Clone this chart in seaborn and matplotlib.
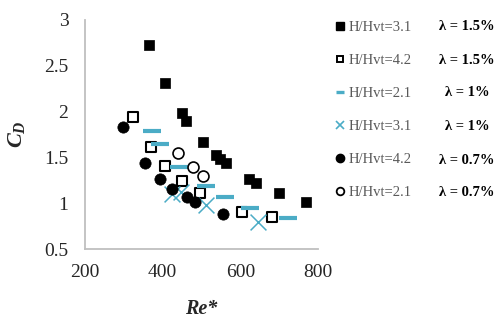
import matplotlib
matplotlib.use("Agg")
import matplotlib.pyplot as plt
import seaborn as sns
import pandas as pd
from matplotlib.ticker import FuncFormatter
from matplotlib.lines import Line2D

# ---- data ----
sq31_x = [365, 405, 449, 459, 503, 537, 548, 562, 622, 640, 700, 768]
sq31_y = [2.73, 2.31, 1.98, 1.90, 1.67, 1.53, 1.48, 1.44, 1.26, 1.22, 1.11, 1.01]
osq42_x = [323, 369, 405, 449, 497, 605, 682]
osq42_y = [1.94, 1.61, 1.41, 1.24, 1.11, 0.90, 0.85]
dash21_x = [373, 394, 442, 511, 560, 625, 723]
dash21_y = [1.79, 1.65, 1.40, 1.19, 1.065, 0.95, 0.84]
x31_x = [425, 448, 511, 646]
x31_y = [1.10, 1.12, 0.98, 0.79]
dot42_x = [299, 355, 394, 423, 462, 483, 556]
dot42_y = [1.835, 1.44, 1.26, 1.16, 1.065, 1.01, 0.88]
oc21_x = [440, 477, 505]
oc21_y = [1.55, 1.39, 1.30]

legend_labels = ["H/Hvt=3.1", "H/Hvt=4.2", "H/Hvt=2.1", "H/Hvt=3.1", "H/Hvt=4.2", "H/Hvt=2.1"]
lambda_labels = ["λ = 1.5%", "λ = 1.5%", "λ = 1%", "λ = 1%", "λ = 0.7%", "λ = 0.7%"]
x_ticks = [200, 400, 600, 800]
y_ticks = [0.5, 1, 1.5, 2, 2.5, 3]

sns.set_style("white")
plt.rcParams["font.family"] = ["Liberation Serif", "DejaVu Serif"]
plt.rcParams["mathtext.fontset"] = "custom"
plt.rcParams["mathtext.it"] = "Liberation Serif:italic:bold"
plt.rcParams["mathtext.rm"] = "Liberation Serif:bold"
plt.rcParams["mathtext.bf"] = "Liberation Serif:bold"

CYAN = "#4BACC6"
fig = plt.figure(figsize=(4.96, 3.21), dpi=100)
ax = fig.add_axes([85 / 496, 1 - 249 / 321, (318 - 85) / 496, (249 - 20) / 321])

series = [
    (sq31_x, sq31_y, dict(marker="s", s=52, color="black", edgecolor="black", linewidth=0.5)),
    (osq42_x, osq42_y, dict(marker="s", s=48, color="white", edgecolor="black", linewidth=1.5)),
    (dash21_x, dash21_y, dict(marker="_", s=180, color=CYAN, linewidth=3.0)),
    (x31_x, x31_y, dict(marker="x", s=130, color=CYAN, linewidth=1.1)),
    (dot42_x, dot42_y, dict(marker="o", s=66, color="black", edgecolor="black", linewidth=0.5)),
    (oc21_x, oc21_y, dict(marker="o", s=62, color="white", edgecolor="black", linewidth=1.2)),
]
for xs, ys, kw in series:
    df = pd.DataFrame({"x": xs, "y": ys})
    sns.scatterplot(data=df, x="x", y="y", ax=ax, legend=False, **kw)

ax.set_xlim(200, 800)
ax.set_ylim(0.5, 3)
ax.set_xticks(x_ticks)
ax.set_yticks(y_ticks)
fmt = FuncFormatter(lambda v, p: f"{v:g}")
ax.xaxis.set_major_formatter(fmt)
ax.yaxis.set_major_formatter(fmt)
ax.tick_params(axis="both", length=0, labelsize=14, labelcolor="#262626")
ax.tick_params(axis="x", pad=11)
ax.tick_params(axis="y", pad=12)
for side in ["top", "right"]:
    ax.spines[side].set_visible(False)
for side in ["left", "bottom"]:
    ax.spines[side].set_color("#BFBFBF")
    ax.spines[side].set_linewidth(1.3)

ax.set_xlabel("Re*", fontsize=14.5, fontweight="bold", fontstyle="italic", labelpad=13)
ax.set_ylabel(r"$C_D$", fontsize=16, labelpad=12)

handles = [
    Line2D([], [], ls="none", marker="s", markersize=5.2, mfc="black", mec="black"),
    Line2D([], [], ls="none", marker="s", markersize=5.0, mfc="white", mec="black", mew=1.4),
    Line2D([], [], ls="none", marker="_", markersize=6.0, mec=CYAN, mew=2.4),
    Line2D([], [], ls="none", marker="x", markersize=5.5, mec=CYAN, mew=1.2),
    Line2D([], [], ls="none", marker="o", markersize=6.0, mfc="black", mec="black"),
    Line2D([], [], ls="none", marker="o", markersize=5.5, mfc="white", mec="black", mew=1.3),
]
fig.legend(handles, legend_labels, loc="upper left",
           bbox_to_anchor=(336 / 496, 1 - 21 / 321), frameon=False,
           fontsize=10.5, labelcolor="#595959", handlelength=0.6,
           handletextpad=0.25, labelspacing=1.36, borderpad=0,
           borderaxespad=0)

row_y = [26, 60, 93, 127, 160, 193]
for ty, lab in zip(row_y, lambda_labels):
    fig.text(467 / 496, 1 - ty / 321, lab, ha="center", va="center",
             fontsize=10.5, fontweight="bold", color="black")

fig.savefig("out.png", dpi=100)
